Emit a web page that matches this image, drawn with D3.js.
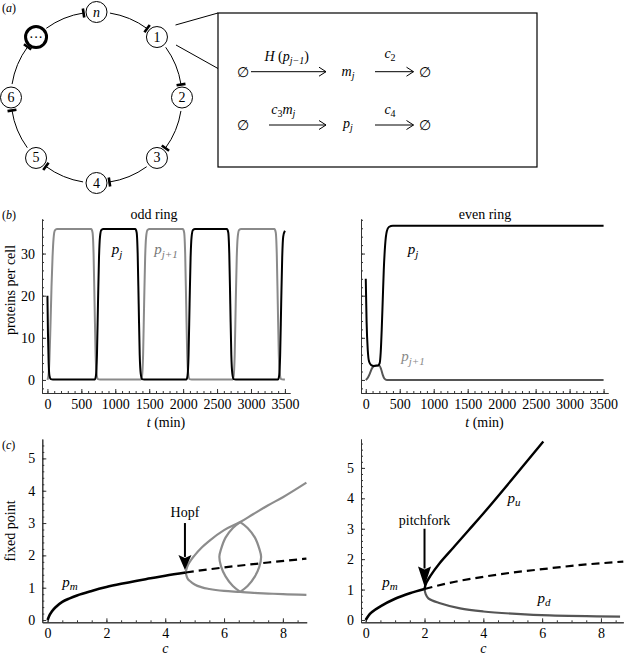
<!DOCTYPE html>
<html>
<head>
<meta charset="utf-8">
<script src="https://cdn.jsdelivr.net/npm/d3@7"></script>
<style>
body { margin: 0; background: #fff; }
svg, text { font-family: "Liberation Serif", "Tinos", "Times New Roman", Times, serif; }
</style>
</head>
<body>
<div id="container"></div>
<script>
var width = 625;
var height = 656;
var serif = '"Liberation Serif", "Tinos", "Times New Roman", Times, serif';

// ring nodes, clockwise from the top
var ringNodes = ["n", "1", "2", "3", "4", "5", "6", "\u00b7\u00b7\u00b7"];

// tick labels
var timeTicks = [0, 500, 1000, 1500, 2000, 2500, 3000, 3500];
var proteinTicks = [0, 10, 20, 30];
var cTicks = [0, 2, 4, 6, 8];
var fixedTicks = [0, 1, 2, 3, 4, 5];

// (b) odd ring: [t (min), proteins per cell]
var oddPj = [[0,20],[8,11],[18,4],[30,1],[50,0.2],[80,0.1],
  [700,0.1],[715,1],[730,6],[745,18],[760,29],[775,34],[795,35.6],[825,35.8],
  [1295,35.8],[1315,35],[1330,30],[1345,18],[1360,6],[1375,1.5],[1395,0.2],[1425,0.1],
  [2050,0.1],[2065,1],[2080,6],[2095,18],[2110,29],[2125,34],[2145,35.6],[2175,35.8],
  [2645,35.8],[2665,35],[2680,30],[2695,18],[2710,6],[2725,1.5],[2745,0.2],[2775,0.1],
  [3400,0.1],[3415,1],[3430,6],[3445,18],[3460,29],[3475,34],[3500,35.4]];
var oddPj1 = [[0,0],[15,1],[30,5],[45,13],[60,22],[75,29],[90,33.5],[110,35.5],[140,35.8],
  [645,35.8],[665,35],[680,30],[695,18],[710,6],[725,1.5],[745,0.2],[775,0.1],
  [1380,0.1],[1395,1],[1410,6],[1425,18],[1440,29],[1455,34],[1475,35.6],[1505,35.8],
  [1995,35.8],[2015,35],[2030,30],[2045,18],[2060,6],[2075,1.5],[2095,0.2],[2125,0.1],
  [2730,0.1],[2745,1],[2760,6],[2775,18],[2790,29],[2805,34],[2825,35.6],[2855,35.8],
  [3345,35.8],[3365,35],[3380,30],[3395,18],[3410,6],[3425,1.5],[3445,0.2],[3475,0.1],[3500,0.1]];

// (b) even ring
var evenPj = [[0,24],[12,14],[30,7],[50,4.3],[80,3.5],[120,3.3],[180,3.4],[205,4],[220,6.5],
  [235,12],[250,19],[265,26],[285,32],[310,35.3],[340,36.3],[400,36.6],[3500,36.6]];
var evenPj1 = [[0,0],[30,0.5],[60,1.5],[90,2.7],[120,3.3],[160,3.5],[200,3.4],[225,2.6],
  [250,1.2],[275,0.3],[310,0],[3500,0]];

// (c) left: Hopf
var hopfStable = [[0,0],[0.05,0.12],[0.15,0.27],[0.3,0.42],[0.5,0.56],[0.75,0.67],[1,0.76],
  [1.5,0.9],[2,1.02],[2.5,1.12],[3,1.21],[3.5,1.29],[4,1.37],[4.7,1.47]];
var hopfUnstable = [[4.7,1.47],[5.5,1.57],[6.5,1.68],[7.5,1.78],[8.8,1.9]];
var hopfUpper = [[4.7,1.5],[4.75,1.65],[4.85,1.82],[5,2.0],[5.25,2.25],[5.5,2.45],[6,2.78],
  [6.55,3.03],[7,3.28],[7.5,3.55],[8,3.8],[8.8,4.25]];
var hopfLower = [[4.7,1.45],[4.75,1.3],[4.85,1.2],[5,1.1],[5.25,1.01],[5.5,0.96],[6,0.9],
  [6.55,0.87],[7,0.84],[7.5,0.82],[8,0.8],[8.8,0.78]];
var loopLeft = [[6.55,3.03],[6.3,2.85],[6.05,2.55],[5.9,2.2],[5.84,1.96],[5.9,1.65],
  [6.05,1.35],[6.3,1.05],[6.55,0.87]];
var loopRight = [[6.55,3.03],[6.8,2.85],[7.05,2.55],[7.2,2.2],[7.26,1.96],[7.2,1.65],
  [7.05,1.35],[6.8,1.05],[6.55,0.87]];

// (c) right: pitchfork
var pfStable = [[0,0],[0.1,0.15],[0.25,0.29],[0.5,0.45],[1,0.7],[1.5,0.88],[2,1.02]];
var pfUnstable = [[2,1.02],[3,1.25],[4,1.42],[5,1.56],[6,1.67],[7,1.78],[8.76,1.92]];
var pfUp = [[2,1.02],[2.05,1.2],[2.2,1.45],[2.5,1.85],[3,2.4],[3.5,2.95],[4,3.5],[5,4.65],[6.04,5.87]];
var pfDown = [[2,1.02],[2.04,0.85],[2.13,0.71],[2.53,0.55],[3.21,0.38],[4,0.28],[5.13,0.2],
  [6.26,0.15],[8.65,0.11]];

var svg = d3.select("#container")
    .append("svg")
    .attr("width", width)
    .attr("height", height)
    .attr("font-family", serif);

var italic = "italic";

// ---------- panel (a) ----------
svg.append("text").attr("x", 2).attr("y", 12).attr("font-size", "12px")
  .html('(<tspan font-style="italic">a</tspan>)');

var cx = 96.5, cy = 97.5, R = 85.5, nodeR = 10.5;
function ringPt(a, r) { return [cx + r * Math.cos(a), cy + r * Math.sin(a)]; }
var ang = ringNodes.map(function(d, i) { return (-90 + 45 * i) * Math.PI / 180; });

ringNodes.forEach(function(d, i) {
  var a1 = ang[i] + (nodeR + 3) / R;
  var a2 = ang[i] + Math.PI / 4 - (nodeR + 2.5) / R;
  var p1 = ringPt(a1, R), p2 = ringPt(a2, R);
  svg.append("path")
    .attr("d", "M" + p1 + "A" + R + "," + R + " 0 0 1 " + p2)
    .attr("fill", "none").attr("stroke", "#000").attr("stroke-width", 1);
  var b1 = ringPt(a2, R - 4.5), b2 = ringPt(a2, R + 4.5);
  svg.append("line")
    .attr("x1", b1[0]).attr("y1", b1[1]).attr("x2", b2[0]).attr("y2", b2[1])
    .attr("stroke", "#000").attr("stroke-width", 2.6);
});

ringNodes.forEach(function(d, i) {
  var p = ringPt(ang[i], R);
  svg.append("circle").attr("cx", p[0]).attr("cy", p[1]).attr("r", nodeR)
    .attr("fill", "#fff").attr("stroke", "#000")
    .attr("stroke-width", i === 7 ? 3 : 1);
  svg.append("text").attr("x", p[0]).attr("y", p[1] + 4.5)
    .attr("text-anchor", "middle").attr("font-size", "14px")
    .attr("font-style", d === "n" ? italic : "normal")
    .text(d);
});

// zoom lines to the box
svg.append("line").attr("x1", 175.5).attr("y1", 25).attr("x2", 218).attr("y2", 13)
  .attr("stroke", "#000").attr("stroke-width", 1);
svg.append("line").attr("x1", 176).attr("y1", 45).attr("x2", 218).attr("y2", 68.5)
  .attr("stroke", "#000").attr("stroke-width", 1);
svg.append("rect").attr("x", 218).attr("y", 13).attr("width", 319).attr("height", 154)
  .attr("fill", "none").attr("stroke", "#000").attr("stroke-width", 1.2);

function arrow(x1, x2, y) {
  svg.append("path")
    .attr("d", "M" + x1 + "," + y + "H" + x2 + "M" + (x2 - 7) + "," + (y - 4.5) + "L" + x2 + "," + y + "L" + (x2 - 7) + "," + (y + 4.5))
    .attr("fill", "none").attr("stroke", "#000").attr("stroke-width", 1);
}
function emptySet(x, y) {
  svg.append("text").attr("x", x).attr("y", y).attr("text-anchor", "middle")
    .attr("font-size", "14px").attr("font-family", "DejaVu Serif").text("\u2205");
}
var r1 = 71.7, r2 = 125;
emptySet(243.3, r1 + 5); emptySet(243.3, r2 + 5);
emptySet(425, r1 + 5); emptySet(425, r2 + 5);
arrow(251, 326, r1); arrow(375, 413.5, r1);
arrow(269, 326, r2); arrow(375, 413.5, r2);
svg.append("text").attr("x", 348).attr("y", r1 + 4).attr("text-anchor", "middle").attr("font-size", "14px")
  .html('<tspan font-style="italic">m</tspan><tspan font-style="italic" font-size="10px" dy="3">j</tspan>');
svg.append("text").attr("x", 348).attr("y", r2 + 3).attr("text-anchor", "middle").attr("font-size", "14px")
  .html('<tspan font-style="italic">p</tspan><tspan font-style="italic" font-size="10px" dy="3">j</tspan>');
svg.append("text").attr("x", 286.7).attr("y", 61).attr("text-anchor", "middle").attr("font-size", "14px")
  .html('<tspan font-style="italic">H</tspan> (<tspan font-style="italic">p</tspan><tspan font-style="italic" font-size="10px" dy="3">j\u22121</tspan><tspan dy="-3">)</tspan>');
svg.append("text").attr("x", 390).attr("y", 58).attr("text-anchor", "middle").attr("font-size", "14px")
  .html('<tspan font-style="italic">c</tspan><tspan font-size="10px" dy="3">2</tspan>');
svg.append("text").attr("x", 283.3).attr("y", 114).attr("text-anchor", "middle").attr("font-size", "14px")
  .html('<tspan font-style="italic">c</tspan><tspan font-size="10px" dy="3">3</tspan><tspan font-style="italic" dy="-3">m</tspan><tspan font-style="italic" font-size="10px" dy="3">j</tspan>');
svg.append("text").attr("x", 390).attr("y", 114).attr("text-anchor", "middle").attr("font-size", "14px")
  .html('<tspan font-style="italic">c</tspan><tspan font-size="10px" dy="3">4</tspan>');

// ---------- axis helper ----------
function clean(g) {
  g.selectAll(".domain").attr("stroke", "#333");
  g.selectAll(".tick line").attr("stroke", "#333");
  g.attr("font-family", serif).attr("font-size", "14px");
  g.selectAll("text").attr("fill", "#000").attr("font-family", serif).attr("font-size", "14px");
}
function axes(xs, ys, o) {
  var x0 = xs.range()[0], y0 = ys.range()[0];
  var fmt = d3.format("d");
  var gx = svg.append("g").attr("transform", "translate(0," + y0 + ")");
  gx.call(d3.axisBottom(xs).tickValues(o.xMinor).tickSize(-2).tickSizeOuter(0).tickFormat(""));
  gx.append("g").call(d3.axisBottom(xs).tickValues(o.xMajor).tickSize(-4).tickSizeOuter(0).tickPadding(6).tickFormat(fmt)).call(clean);
  gx.call(clean);
  var gy = svg.append("g").attr("transform", "translate(" + x0 + ",0)");
  gy.call(d3.axisLeft(ys).tickValues(o.yMinor).tickSize(-2).tickSizeOuter(0).tickFormat(""));
  gy.append("g").call(d3.axisLeft(ys).tickValues(o.yMajor).tickSize(-4).tickSizeOuter(0).tickPadding(7)
    .tickFormat(o.yLabels ? fmt : "")).call(clean);
  gy.call(clean);
}

// ---------- panel (b) ----------
svg.append("text").attr("x", 2).attr("y", 219).attr("font-size", "12px")
  .html('(<tspan font-style="italic">b</tspan>)');

var yb = d3.scaleLinear().domain([-3.1, 38.2]).range([393, 219]);
var xbL = d3.scaleLinear().domain([-80, 3575]).range([42, 290]);
var xbR = d3.scaleLinear().domain([-70, 3565]).range([361, 608]);
var bMinorX = d3.range(0, 3501, 100), bMinorY = d3.range(-2, 38.1, 2);

axes(xbL, yb, { xMajor: timeTicks, xMinor: bMinorX, yMajor: proteinTicks, yMinor: bMinorY, yLabels: true });
axes(xbR, yb, { xMajor: timeTicks, xMinor: bMinorX, yMajor: proteinTicks, yMinor: bMinorY, yLabels: false });

function drawLine(xs, ys, data, color, w, dash, curve) {
  svg.append("path").datum(data)
    .attr("d", d3.line().x(function(d) { return xs(d[0]); }).y(function(d) { return ys(d[1]); })
      .curve(curve || d3.curveMonotoneX))
    .attr("fill", "none").attr("stroke", color).attr("stroke-width", w)
    .attr("stroke-dasharray", dash || null).attr("stroke-linejoin", "round");
}

drawLine(xbL, yb, oddPj1, "#8a8a8a", 2);
drawLine(xbL, yb, oddPj, "#000", 2);
drawLine(xbR, yb, evenPj1, "#555", 2);
drawLine(xbR, yb, evenPj, "#000", 2);

function pLabel(x, y, sub, color) {
  svg.append("text").attr("x", x).attr("y", y).attr("text-anchor", "middle").attr("font-size", "15px")
    .attr("fill", color)
    .html('<tspan font-style="italic">p</tspan><tspan font-style="italic" font-size="11px" dy="3.5">' + sub + '</tspan>');
}
pLabel(117, 254, "j", "#000");
pLabel(166, 254, "j+1", "#777");
pLabel(413, 254, "j", "#000");
pLabel(413, 361, "j+1", "#888");

svg.append("text").attr("x", 154).attr("y", 219).attr("text-anchor", "middle").attr("font-size", "14px").text("odd ring");
svg.append("text").attr("x", 485).attr("y", 219).attr("text-anchor", "middle").attr("font-size", "14px").text("even ring");
svg.append("text").attr("x", 166).attr("y", 427).attr("text-anchor", "middle").attr("font-size", "14px")
  .html('<tspan font-style="italic">t</tspan> (min)');
svg.append("text").attr("x", 484.5).attr("y", 427).attr("text-anchor", "middle").attr("font-size", "14px")
  .html('<tspan font-style="italic">t</tspan> (min)');
svg.append("text").attr("transform", "translate(15,290) rotate(-90)").attr("text-anchor", "middle")
  .attr("font-size", "14px").text("proteins per cell");

// ---------- panel (c) ----------
svg.append("text").attr("x", 2).attr("y", 449).attr("font-size", "12px")
  .html('(<tspan font-style="italic">c</tspan>)');

var xcL = d3.scaleLinear().domain([-0.18, 8.81]).range([42.3, 306.7]);
var ycL = d3.scaleLinear().domain([-0.07, 5.6]).range([622.3, 439]);
var xcR = d3.scaleLinear().domain([-0.16, 8.76]).range([361, 623.3]);
var ycR = d3.scaleLinear().domain([-0.076, 5.95]).range([622.3, 439]);
var cMinorX = d3.range(0, 8.6, 0.5), cMinorY = d3.range(0, 5.9, 0.2);

axes(xcL, ycL, { xMajor: cTicks, xMinor: cMinorX, yMajor: fixedTicks, yMinor: cMinorY.filter(function(v) { return v < 5.6; }), yLabels: true });
axes(xcR, ycR, { xMajor: cTicks, xMinor: cMinorX, yMajor: fixedTicks, yMinor: cMinorY, yLabels: true });

drawLine(xcL, ycL, hopfUpper, "#8c8c8c", 2.2);
drawLine(xcL, ycL, hopfLower, "#8c8c8c", 2.2);
drawLine(xcL, ycL, loopLeft, "#8c8c8c", 2.2, null, d3.curveCatmullRom);
drawLine(xcL, ycL, loopRight, "#8c8c8c", 2.2, null, d3.curveCatmullRom);
drawLine(xcL, ycL, hopfUnstable, "#000", 2.2, "8,5");
drawLine(xcL, ycL, hopfStable, "#000", 2.6);

drawLine(xcR, ycR, pfDown, "#555", 2.2, null, d3.curveCatmullRom);
drawLine(xcR, ycR, pfUnstable, "#000", 2.2, "8,5");
drawLine(xcR, ycR, pfUp, "#000", 2.4, null, d3.curveCatmullRom);
drawLine(xcR, ycR, pfStable, "#000", 2.6);

function bigArrow(x, yTop, yTip, headH) {
  svg.append("line").attr("x1", x).attr("y1", yTop).attr("x2", x).attr("y2", yTip - headH + 2)
    .attr("stroke", "#000").attr("stroke-width", 2);
  svg.append("path")
    .attr("d", "M" + x + "," + yTip + "L" + (x - 6.5) + "," + (yTip - headH) + "L" + x + "," + (yTip - headH + 3) +
      "L" + (x + 6.5) + "," + (yTip - headH) + "Z")
    .attr("fill", "#000");
}
bigArrow(xcL(4.67), ycL(3.0), ycL(1.55), 15);
bigArrow(xcR(2.0), ycR(3.0), ycR(1.1), 20);

svg.append("text").attr("x", xcL(4.67)).attr("y", 517).attr("text-anchor", "middle").attr("font-size", "14px").text("Hopf");
svg.append("text").attr("x", xcR(2.0)) .attr("y", 525).attr("text-anchor", "middle").attr("font-size", "14px").text("pitchfork");

function cLabel(x, y, sub) {
  svg.append("text").attr("x", x).attr("y", y).attr("text-anchor", "middle").attr("font-size", "15px")
    .html('<tspan font-style="italic">p</tspan><tspan font-style="italic" font-size="11px" dy="3">' + sub + '</tspan>');
}
cLabel(70, 587, "m");
cLabel(390, 587, "m");
cLabel(514, 503, "u");
cLabel(544, 603, "d");

svg.append("text").attr("x", xcL(4.0)).attr("y", 653).attr("text-anchor", "middle").attr("font-size", "14px")
  .attr("font-style", italic).text("c");
svg.append("text").attr("x", xcR(4.0)).attr("y", 653).attr("text-anchor", "middle").attr("font-size", "14px")
  .attr("font-style", italic).text("c");
svg.append("text").attr("transform", "translate(15,531) rotate(-90)").attr("text-anchor", "middle")
  .attr("font-size", "14px").text("fixed point");
</script>
</body>
</html>
